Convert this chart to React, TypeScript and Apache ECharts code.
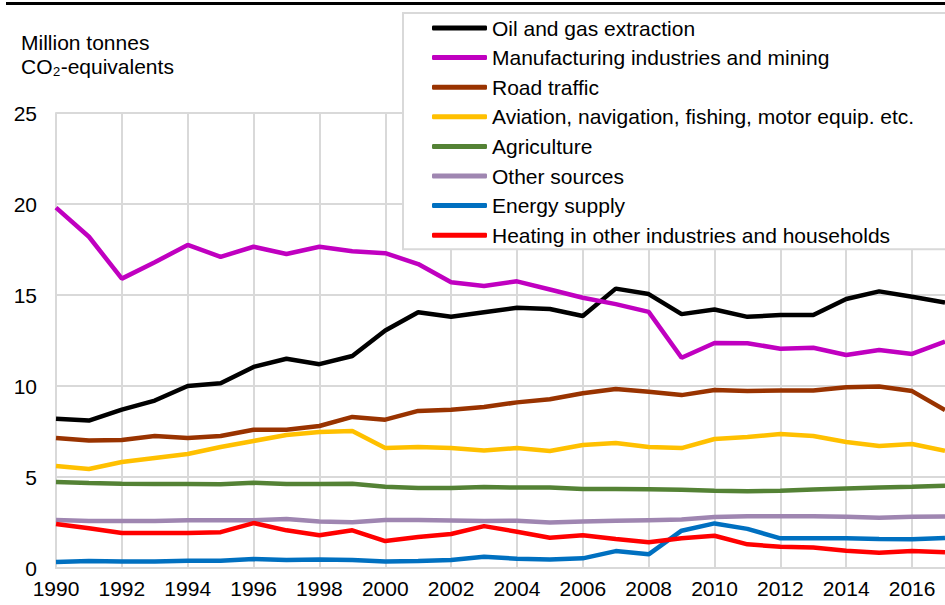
import React, { useEffect, useRef } from "react";
import * as echarts from "echarts";

const years = [
  "1990","1991","1992","1993","1994","1995","1996","1997","1998","1999",
  "2000","2001","2002","2003","2004","2005","2006","2007","2008","2009",
  "2010","2011","2012","2013","2014","2015","2016","2017",
];

const oilGas = [8.2, 8.1, 8.7, 9.2, 10.0, 10.15, 11.05, 11.5, 11.2, 11.65, 13.05, 14.05, 13.8, 14.05, 14.3, 14.23, 13.85, 15.35, 15.05, 13.95, 14.2, 13.8, 13.9, 13.9, 14.78, 15.2, 14.9, 14.58];
const manufacturing = [19.8, 18.2, 15.9, 16.8, 17.75, 17.1, 17.65, 17.25, 17.65, 17.4, 17.3, 16.7, 15.7, 15.5, 15.75, 15.3, 14.85, 14.5, 14.07, 11.55, 12.36, 12.35, 12.05, 12.1, 11.7, 11.98, 11.76, 12.44];
const roadTraffic = [7.14, 7.0, 7.03, 7.25, 7.14, 7.25, 7.6, 7.6, 7.8, 8.3, 8.15, 8.63, 8.7, 8.85, 9.1, 9.27, 9.6, 9.83, 9.68, 9.5, 9.78, 9.73, 9.75, 9.75, 9.93, 9.97, 9.72, 8.68];
const aviation = [5.6, 5.44, 5.82, 6.04, 6.26, 6.65, 6.98, 7.31, 7.47, 7.53, 6.59, 6.65, 6.59, 6.45, 6.59, 6.43, 6.76, 6.87, 6.65, 6.59, 7.09, 7.2, 7.36, 7.25, 6.92, 6.7, 6.81, 6.44];
const agriculture = [4.72, 4.67, 4.63, 4.62, 4.62, 4.6, 4.68, 4.62, 4.62, 4.63, 4.47, 4.4, 4.4, 4.45, 4.42, 4.42, 4.34, 4.34, 4.33, 4.3, 4.25, 4.22, 4.24, 4.31, 4.37, 4.42, 4.46, 4.52];
const otherSources = [2.64, 2.58, 2.58, 2.58, 2.63, 2.62, 2.62, 2.69, 2.55, 2.52, 2.64, 2.64, 2.61, 2.58, 2.6, 2.5, 2.56, 2.6, 2.63, 2.66, 2.8, 2.84, 2.84, 2.84, 2.82, 2.76, 2.82, 2.83];
const energySupply = [0.33, 0.38, 0.36, 0.36, 0.4, 0.4, 0.49, 0.44, 0.47, 0.44, 0.36, 0.38, 0.44, 0.62, 0.51, 0.47, 0.53, 0.93, 0.75, 2.05, 2.45, 2.15, 1.63, 1.63, 1.63, 1.6, 1.58, 1.65];
const heating = [2.42, 2.18, 1.92, 1.92, 1.92, 1.97, 2.47, 2.07, 1.8, 2.07, 1.48, 1.7, 1.87, 2.3, 1.99, 1.66, 1.8, 1.59, 1.41, 1.63, 1.77, 1.3, 1.17, 1.13, 0.95, 0.84, 0.93, 0.86];

const seriesNames = [
  "Oil and gas extraction",
  "Manufacturing industries and mining",
  "Road traffic",
  "Aviation, navigation, fishing, motor equip. etc.",
  "Agriculture",
  "Other sources",
  "Energy supply",
  "Heating in other industries and households",
];
const seriesData = [oilGas, manufacturing, roadTraffic, aviation, agriculture, otherSources, energySupply, heating];
const seriesColors = ["#000000", "#c000c0", "#993300", "#ffc000", "#548235", "#9f86b1", "#0070c0", "#ff0000"];

const yTicks = { min: 0, max: 25, interval: 5 };
const unitLabel = "Million tonnes\nCO₂-equivalents";

const FONT = "'Liberation Sans', Arial, sans-serif";
const GRID_COLOR = "#d9d9d9";

export default function App() {
  const ref = useRef<HTMLDivElement>(null);
  useEffect(() => {
    if (!ref.current) return;
    const chart = echarts.init(ref.current, null, { renderer: "svg" });
    chart.setOption({
      animation: false,
      backgroundColor: "#ffffff",
      textStyle: { fontFamily: FONT },
      grid: { left: 56, top: 113, bottom: 37, right: -9, containLabel: false },
      xAxis: {
        type: "category",
        data: years,
        boundaryGap: false,
        axisLine: { show: true, lineStyle: { color: GRID_COLOR, width: 2 } },
        axisTick: { show: false },
        axisLabel: {
          interval: 1,
          fontSize: 21,
          color: "#000",
          margin: 10,
          fontFamily: FONT,
        },
        splitLine: { show: true, interval: 1, lineStyle: { color: GRID_COLOR, width: 2 } },
      },
      yAxis: {
        type: "value",
        min: yTicks.min,
        max: yTicks.max,
        interval: yTicks.interval,
        axisLine: { show: true, lineStyle: { color: GRID_COLOR, width: 2 } },
        axisTick: { show: false },
        axisLabel: { fontSize: 21, color: "#000", margin: 19, fontFamily: FONT },
        splitLine: { show: true, lineStyle: { color: GRID_COLOR, width: 2 } },
      },
      legend: {
        orient: "vertical",
        left: 403,
        top: 13,
        padding: [3, 80, 2, 29],
        backgroundColor: "#ffffff",
        borderColor: GRID_COLOR,
        borderWidth: 2,
        itemWidth: 55,
        itemHeight: 5,
        itemGap: 5.6,
        icon: "roundRect",
        textStyle: { fontSize: 21, color: "#000", lineHeight: 24, fontFamily: FONT },
        data: seriesNames,
      },
      graphic: [
        {
          type: "rect",
          left: 6,
          top: 2,
          shape: { width: 945, height: 3 },
          style: { fill: "#000" },
        },
        {
          type: "text",
          left: 21,
          top: 30,
          style: { text: unitLabel, font: `21px ${FONT}`, lineHeight: 24, fill: "#000" },
        },
      ],
      series: seriesNames.map((name, i) => ({
        name,
        type: "line",
        data: seriesData[i],
        symbol: "none",
        color: seriesColors[i],
        lineStyle: { width: 4.5, color: seriesColors[i] },
        itemStyle: { color: seriesColors[i] },
        z: 3,
      })),
    });
    return () => chart.dispose();
  }, []);
  return (
    <div
      ref={ref}
      style={{ position: "fixed", left: 0, top: 0, width: 945, height: 605 }}
    />
  );
}
